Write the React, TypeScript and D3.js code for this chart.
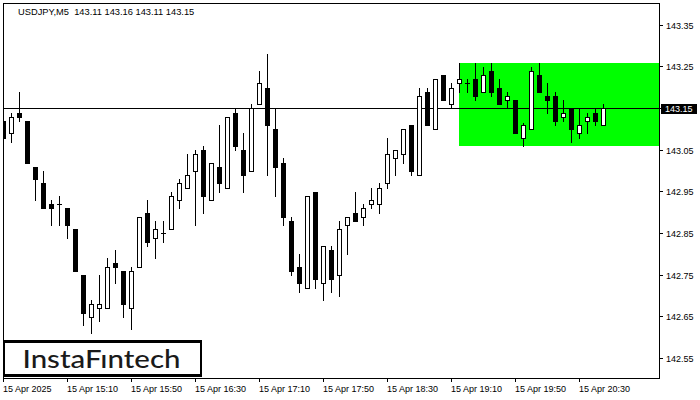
import React from "react";
import * as d3 from "d3";

const opens = [143.12,143.09,143.14,143.12,143.01,142.97,142.92,142.92,142.91,142.86,142.75,142.65,142.67,142.67,142.78,142.76,142.67,142.77,142.90,142.84,142.85,142.86,142.93,142.96,143.00,143.05,142.93,143.01,142.96,143.14,143.05,143.00,143.16,143.20,143.10,143.02,142.88,142.77,142.72,142.95,142.73,142.81,142.75,142.87,142.90,142.89,142.92,142.92,142.97,143.03,143.04,143.11,142.99,143.19,143.10,143.23,143.16,143.21,143.21,143.22,143.19,143.24,143.20,143.17,143.17,143.08,143.10,143.23,143.18,143.18,143.13,143.15,143.09,143.12,143.14,143.11];
const highs = [143.18,143.14,143.19,143.12,143.01,143.00,142.93,142.94,142.91,142.86,142.75,142.69,142.75,142.79,142.81,142.76,142.77,142.89,142.93,142.88,142.88,142.95,142.98,143.04,143.05,143.06,143.02,143.11,143.13,143.15,143.09,143.16,143.24,143.28,143.15,143.03,142.89,142.80,142.94,142.95,142.82,142.82,142.88,142.89,142.95,142.92,142.96,142.97,143.08,143.05,143.10,143.11,143.20,143.20,143.22,143.23,143.21,143.26,143.22,143.26,143.25,143.26,143.22,143.19,143.17,143.115,143.25,143.26,143.21,143.19,143.17,143.15,143.15,143.14,143.15,143.16];
const lows = [143.08,143.07,143.12,143.02,142.93,142.91,142.87,142.87,142.84,142.76,142.63,142.61,142.64,142.67,142.73,142.65,142.62,142.77,142.82,142.79,142.83,142.86,142.91,142.96,142.87,142.90,142.93,142.95,142.96,143.05,142.95,143.00,143.16,142.99,142.94,142.87,142.75,142.71,142.72,142.72,142.69,142.71,142.70,142.80,142.88,142.87,142.91,142.90,142.96,142.99,143.02,142.99,142.99,143.11,143.10,143.17,143.15,143.19,143.19,143.17,143.19,143.18,143.16,143.15,143.09,143.06,143.10,143.19,143.14,143.11,143.12,143.07,143.08,143.09,143.11,143.11];
const closes = [143.08,143.13,143.13,143.02,142.98,142.91,142.91,142.92,142.87,142.76,142.66,142.68,142.68,142.77,142.77,142.68,142.76,142.89,142.83,142.86,142.85,142.94,142.97,142.99,143.04,142.94,143.02,142.97,143.13,143.06,142.99,143.15,143.21,143.11,143.01,142.89,142.76,142.73,142.94,142.74,142.82,142.74,142.86,142.89,142.88,142.91,142.93,142.96,143.04,143.05,143.10,143.00,143.18,143.11,143.22,143.17,143.20,143.22,143.21,143.18,143.23,143.19,143.16,143.18,143.09,143.11,143.24,143.19,143.17,143.12,143.14,143.10,143.11,143.13,143.12,143.15];

const yTicks = [142.55, 142.65, 142.75, 142.85, 142.95, 143.05, 143.15, 143.25, 143.35];
const yTickLabels = ["142.55", "142.65", "142.75", "142.85", "142.95", "143.05", "143.15", "143.25", "143.35"];
const xTickIndex = [0, 8, 16, 24, 32, 40, 48, 56, 64, 72];
const xTickLabels = ["15 Apr 2025", "15 Apr 15:10", "15 Apr 15:50", "15 Apr 16:30", "15 Apr 17:10", "15 Apr 17:50", "15 Apr 18:30", "15 Apr 19:10", "15 Apr 19:50", "15 Apr 20:30"];
const title = "USDJPY,M5  143.11 143.16 143.11 143.15";
const lastPrice = 143.15;
const lastPriceLabel = "143.15";
const boxStartIndex = 57;
const boxTop = 143.26;
const boxBottom = 143.06;

const FONT = "'Liberation Sans', Arial, sans-serif";

export default function App() {
  const L = 3, R = 659, T = 3, B = 378;
  const x = d3.scaleLinear().domain([0, 75]).range([3.5, 603.5]);
  const y = d3.scaleLinear().domain([142.55, 143.35]).range([358.5, 25]);
  const ry = (v: number) => Math.round(y(v));

  const candles = opens.map((o, i) => {
    const c = closes[i];
    const h = highs[i];
    const l = lows[i];
    const cx = x(i);
    const top = ry(Math.max(o, c));
    const bot = ry(Math.min(o, c));
    const up = c >= o;
    return (
      <g key={i}>
        <line x1={cx} x2={cx} y1={ry(h)} y2={ry(l) + 1} stroke="#000" strokeWidth={1} />
        {bot - top < 1 ? (
          <line x1={cx - 2.5} x2={cx + 2.5} y1={top + 0.5} y2={top + 0.5} stroke="#000" strokeWidth={1} />
        ) : (
          <rect x={cx - 2} y={top + 0.5} width={4} height={bot - top} fill={up ? "#fff" : "#000"} stroke="#000" strokeWidth={1} />
        )}
      </g>
    );
  });

  const lpY = Math.floor(y(lastPrice)) + 0.5;

  return (
    <svg width={700} height={400} style={{ position: "absolute", left: 0, top: 0, background: "#fff" }} shapeRendering="crispEdges">
      <defs>
        <clipPath id="plot">
          <rect x={L + 1} y={T + 1} width={R - L - 1} height={B - T - 1} />
        </clipPath>
      </defs>
      <rect x={0} y={0} width={700} height={400} fill="#fff" />
      <g clipPath="url(#plot)">
        <rect x={x(boxStartIndex) - 0.5} y={ry(boxTop)} width={R - x(boxStartIndex) + 0.5} height={ry(boxBottom) - ry(boxTop)} fill="#00ff00" />
        <line x1={L} x2={R} y1={lpY} y2={lpY} stroke="#000" strokeWidth={1} />
        {candles}
      </g>
      <rect x={L + 0.5} y={T + 0.5} width={R - L} height={B - T} fill="none" stroke="#000" strokeWidth={1} />
      {yTicks.map((v, i) => {
        const yy = Math.floor(y(v)) + 0.5;
        return (
          <g key={i}>
            <line x1={R + 0.5} x2={R + 4} y1={yy} y2={yy} stroke="#000" />
            <text x={666} y={yy + 3.5} fontFamily={FONT} fontSize={9} fill="#000" shapeRendering="auto">{yTickLabels[i]}</text>
          </g>
        );
      })}
      <rect x={661} y={lpY - 5} width={36} height={10} fill="#000" />
      <text x={665} y={lpY + 3.5} fontFamily={FONT} fontSize={9} fill="#fff">{lastPriceLabel}</text>
      {xTickIndex.map((k, i) => {
        const xx = x(k);
        return (
          <g key={i}>
            <line x1={xx} x2={xx} y1={B} y2={B + 4} stroke="#000" />
            <text x={xx - 0.5} y={392} fontFamily={FONT} fontSize={9} fill="#000">{xTickLabels[i]}</text>
          </g>
        );
      })}
      <text x={18} y={14.5} fontFamily={FONT} fontSize={9.3} fill="#000" style={{ whiteSpace: "pre" }}>{title}</text>
      <rect x={4} y={341.5} width={197} height={34} fill="#fff" stroke="#000" strokeWidth={2.5} />
      <text x={22.5} y={368} fontFamily="Lato, 'Open Sans', sans-serif" fontWeight={500} fontSize={25} fill="#1a1a1a" textLength={158} lengthAdjust="spacingAndGlyphs">InstaFıntech</text>
    </svg>
  );
}
